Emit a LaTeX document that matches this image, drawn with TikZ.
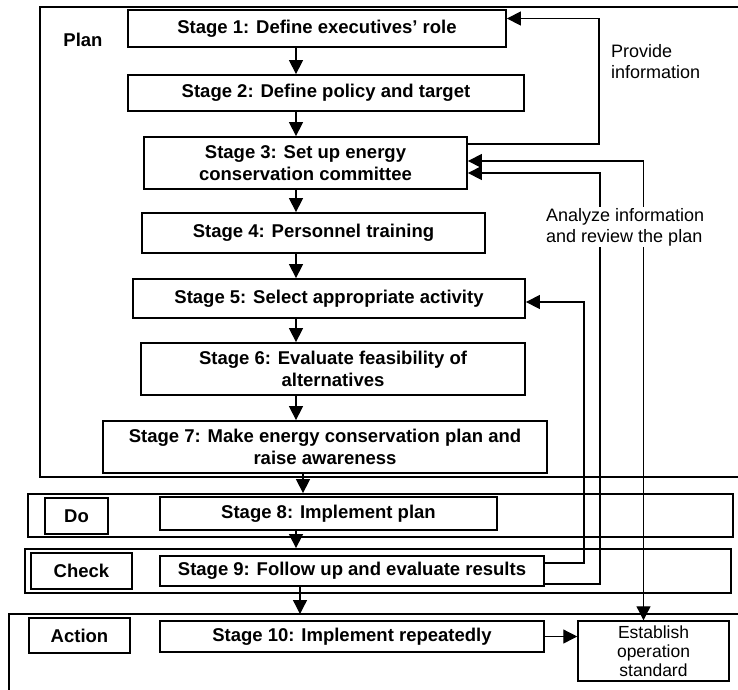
\documentclass[tikz,border=0pt]{standalone}
\usepackage{fontspec}
\setmainfont{Liberation Sans}
\usetikzlibrary{arrows.meta}
\usetikzlibrary{positioning}

\begin{document}
\begin{tikzpicture}[
		x=1pt, y=-1pt,
		stage/.style = {rectangle, draw=black, fill=white, line width=1.8pt, inner sep=0pt, align=center, font=\fontsize{18.5}{22}\selectfont\bfseries},
		phase/.style = {rectangle, draw=black, line width=1.8pt, inner sep=0pt},
		note/.style = {align=left, fill=white, inner sep=1pt, font=\fontsize{18}{21}\selectfont},
		arr/.style = {-{Triangle[length=14pt,width=14pt]}, line width=1.3pt},
		arrb/.style = {{Triangle[length=14pt,width=14pt]}-{Triangle[length=14pt,width=14pt]}, line width=1.3pt}
		]
		\useasboundingbox (0,0) rectangle (738,689);
		
		%Frames
		\draw[line width=1.8pt]	(745,7) -| (40,477) -- (745,477);
		\node[phase, minimum width=705, minimum height=43]	(doframe)		at	(380.5,515.5)	{};
		\node[phase, minimum width=706, minimum height=44]	(checkframe)	at	(378,571)		{};
		\draw[line width=1.8pt]	(745,614) -| (9,700);
		\coordinate	(acttop)	at	(300,614);
		\coordinate	(col)		at	(296,0);
		
		%Nodes
		\node[font=\fontsize{18.5}{22}\selectfont\bfseries]	(plan)	at	(83,40)	{Plan};
		\node[stage, minimum width=63,  minimum height=36]	(do)		at	(76.5,516)		{Do};
		\node[stage, minimum width=101, minimum height=36]	(check)		at	(81.5,571)		{Check};
		\node[stage, minimum width=101, minimum height=35]	(action)	at	(79.5,635.5)	{Action};
		
		\node[stage, minimum width=378, minimum height=37]	(s1)	at	(317,28.5)		{Stage 1: Define executives' role};
		\node[stage, minimum width=396, minimum height=36]	(s2)	at	(326,93)		{Stage 2: Define policy and target};
		\node[stage, minimum width=323, minimum height=52]	(s3)	at	(305.5,163)		{Stage 3: Set up energy\\conservation committee};
		\node[stage, minimum width=343, minimum height=40]	(s4)	at	(313.5,233)		{Stage 4: Personnel training};
		\node[stage, minimum width=392, minimum height=39]	(s5)	at	(329,298.5)		{Stage 5: Select appropriate activity};
		\node[stage, minimum width=384, minimum height=52]	(s6)	at	(333,369)		{Stage 6: Evaluate feasibility of\\alternatives};
		\node[stage, minimum width=444, minimum height=52]	(s7)	at	(325,447)		{Stage 7: Make energy conservation plan and\\raise awareness};
		\node[stage, minimum width=337, minimum height=33]	(s8)	at	(328.5,513.5)	{Stage 8: Implement plan};
		\node[stage, minimum width=384, minimum height=30]	(s9)	at	(352,571)		{Stage 9: Follow up and evaluate results};
		\node[stage, minimum width=384, minimum height=31]	(s10)	at	(352,636.5)		{Stage 10: Implement repeatedly};
		\node[stage, line width=1.5pt, minimum width=151, minimum height=60, font=\fontsize{17.5}{19}\selectfont]	(est)	at	(653.5,651)	{Establish\\operation\\standard};
		
		%Lines
		\foreach \a/\b in {s1/s2, s2/s3, s3/s4, s4/s5, s5/s6, s6/s7}
			\draw[arr]	(\a.south -| col)	--	(\b.north -| col);
		\draw[arr]	([xshift=-22pt]s7.south)	--	([xshift=-22pt]s7.south |- doframe.north);
		\draw[arr]	(s8.south -| col)			--	(checkframe.north -| col);
		\draw[arr]	([xshift=-52pt]s9.south)	--	([xshift=-52pt]s9.south |- acttop);
		\draw[arr]	(s10.east)					--	(s10.east -| est.west);
		
		%Feedback
		\draw[arr]	([yshift=19pt]s3.east)	-- ++(131,0)	|-	([yshift=10pt]s1.east);
		\draw[arrb]	([yshift=2pt]s3.east)	-|	([xshift=-10pt]est.north);
		\draw[arr]	([yshift=-13pt]s9.east)	-- ++(55,0)		|-	([yshift=-10pt]s3.east);
		\draw[arr]	([yshift=8pt]s9.east)	-- ++(39,0)		|-	([yshift=-3.5pt]s5.east);
		
		\node[note, anchor=west]	(provide)	at	(610,62)	{Provide\\information};
		\node[note, anchor=west]	(analyze)	at	(545,227)	{Analyze information\\and review the plan};
	\end{tikzpicture}
\end{document}
